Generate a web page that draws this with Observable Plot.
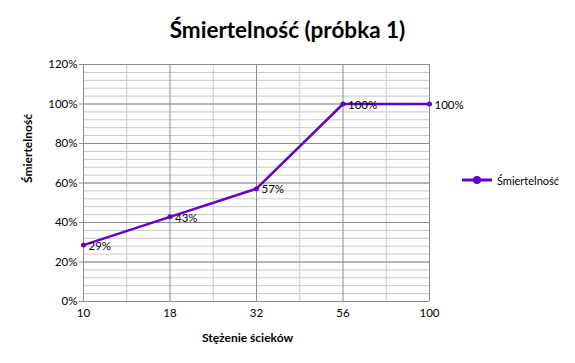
<!DOCTYPE html>
<html><head><meta charset="utf-8">
<script src="https://cdn.jsdelivr.net/npm/d3@7"></script>
<script src="https://cdn.jsdelivr.net/npm/@observablehq/plot@0.6"></script>
<style>
body{margin:0;background:#fff;font-family:Lato,"Noto Sans",sans-serif;}
#wrap{position:relative;width:575px;height:363px;overflow:hidden;}
#title{position:absolute;left:0;width:575px;top:16px;text-align:center;font-size:22.5px;font-weight:bold;color:#000;}
#legend{position:absolute;left:462px;top:173px;display:flex;align-items:center;font-size:11px;color:#000;}
#legend svg{margin-right:5px;}
</style></head>
<body>
<div id="wrap">
<div id="title">Śmiertelność (próbka 1)</div>
<div id="chart"></div>
<div id="legend"><svg width="30" height="14"><line x1="0" y1="7" x2="30" y2="7" stroke="#6600CC" stroke-width="3"/><circle cx="15" cy="7" r="4" fill="#6600CC"/></svg><span>Śmiertelność</span></div>
</div>
<script>
const categories = ["10", "18", "32", "56", "100"];
const mortality = [0.2857, 0.4286, 0.5714, 1.0, 1.0];
const seriesName = "Śmiertelność";
const xTitle = "Stężenie ścieków";
const yTitle = "Śmiertelność";

const data = categories.map((c, i) => ({i, c, v: mortality[i]}));
const majorY = d3.range(0, 1.2001, 0.2);
const minorY = d3.range(0, 1.2001, 0.04);
const majorX = d3.range(0, categories.length);
const minorX = d3.range(0.5, categories.length - 1, 1);
const color = "#6600CC";

const chart = Plot.plot({
  width: 575,
  height: 363,
  marginLeft: 83,
  marginRight: 146,
  marginTop: 64,
  marginBottom: 62,
  style: {fontFamily: "Lato, 'Noto Sans', sans-serif", fontSize: "11px", background: "transparent", color: "#000"},
  x: {type: "linear", domain: [0, categories.length - 1]},
  y: {domain: [0, 1.2]},
  marks: [
    Plot.ruleY(minorY, {stroke: "#c8c8c8", strokeWidth: 1, strokeOpacity: 1}),
    Plot.ruleX(minorX, {stroke: "#c8c8c8", strokeWidth: 1}),
    Plot.ruleY(majorY, {stroke: "#8c8c8c", strokeWidth: 1}),
    Plot.ruleX(majorX, {stroke: "#8c8c8c", strokeWidth: 1}),
    Plot.axisY({ticks: majorY, tickFormat: d3.format(".0%"), tickSize: 4, tickPadding: 2, stroke: "#8c8c8c", fontSize: 11.5, label: null}),
    Plot.axisX({ticks: majorX, tickFormat: i => categories[i], tickSize: 0, tickPadding: 7, fontSize: 11.5, label: null}),
    Plot.text([xTitle], {frameAnchor: "bottom", dx: -9, dy: 40, fontWeight: "bold", fontSize: 12}),
    Plot.text([yTitle], {frameAnchor: "left", dx: -55, rotate: -90, fontWeight: "bold", fontSize: 12}),
    Plot.line(data, {x: "i", y: "v", stroke: color, strokeWidth: 2.5}),
    Plot.dot(data, {x: "i", y: "v", fill: color, r: 2.5}),
    Plot.text(data, {x: "i", y: "v", text: d => d3.format(".0%")(d.v), textAnchor: "start", dx: 5, dy: 1, fontSize: 11.5, fill: "#000"})
  ]
});
document.getElementById("chart").appendChild(chart);
</script>
</body></html>
